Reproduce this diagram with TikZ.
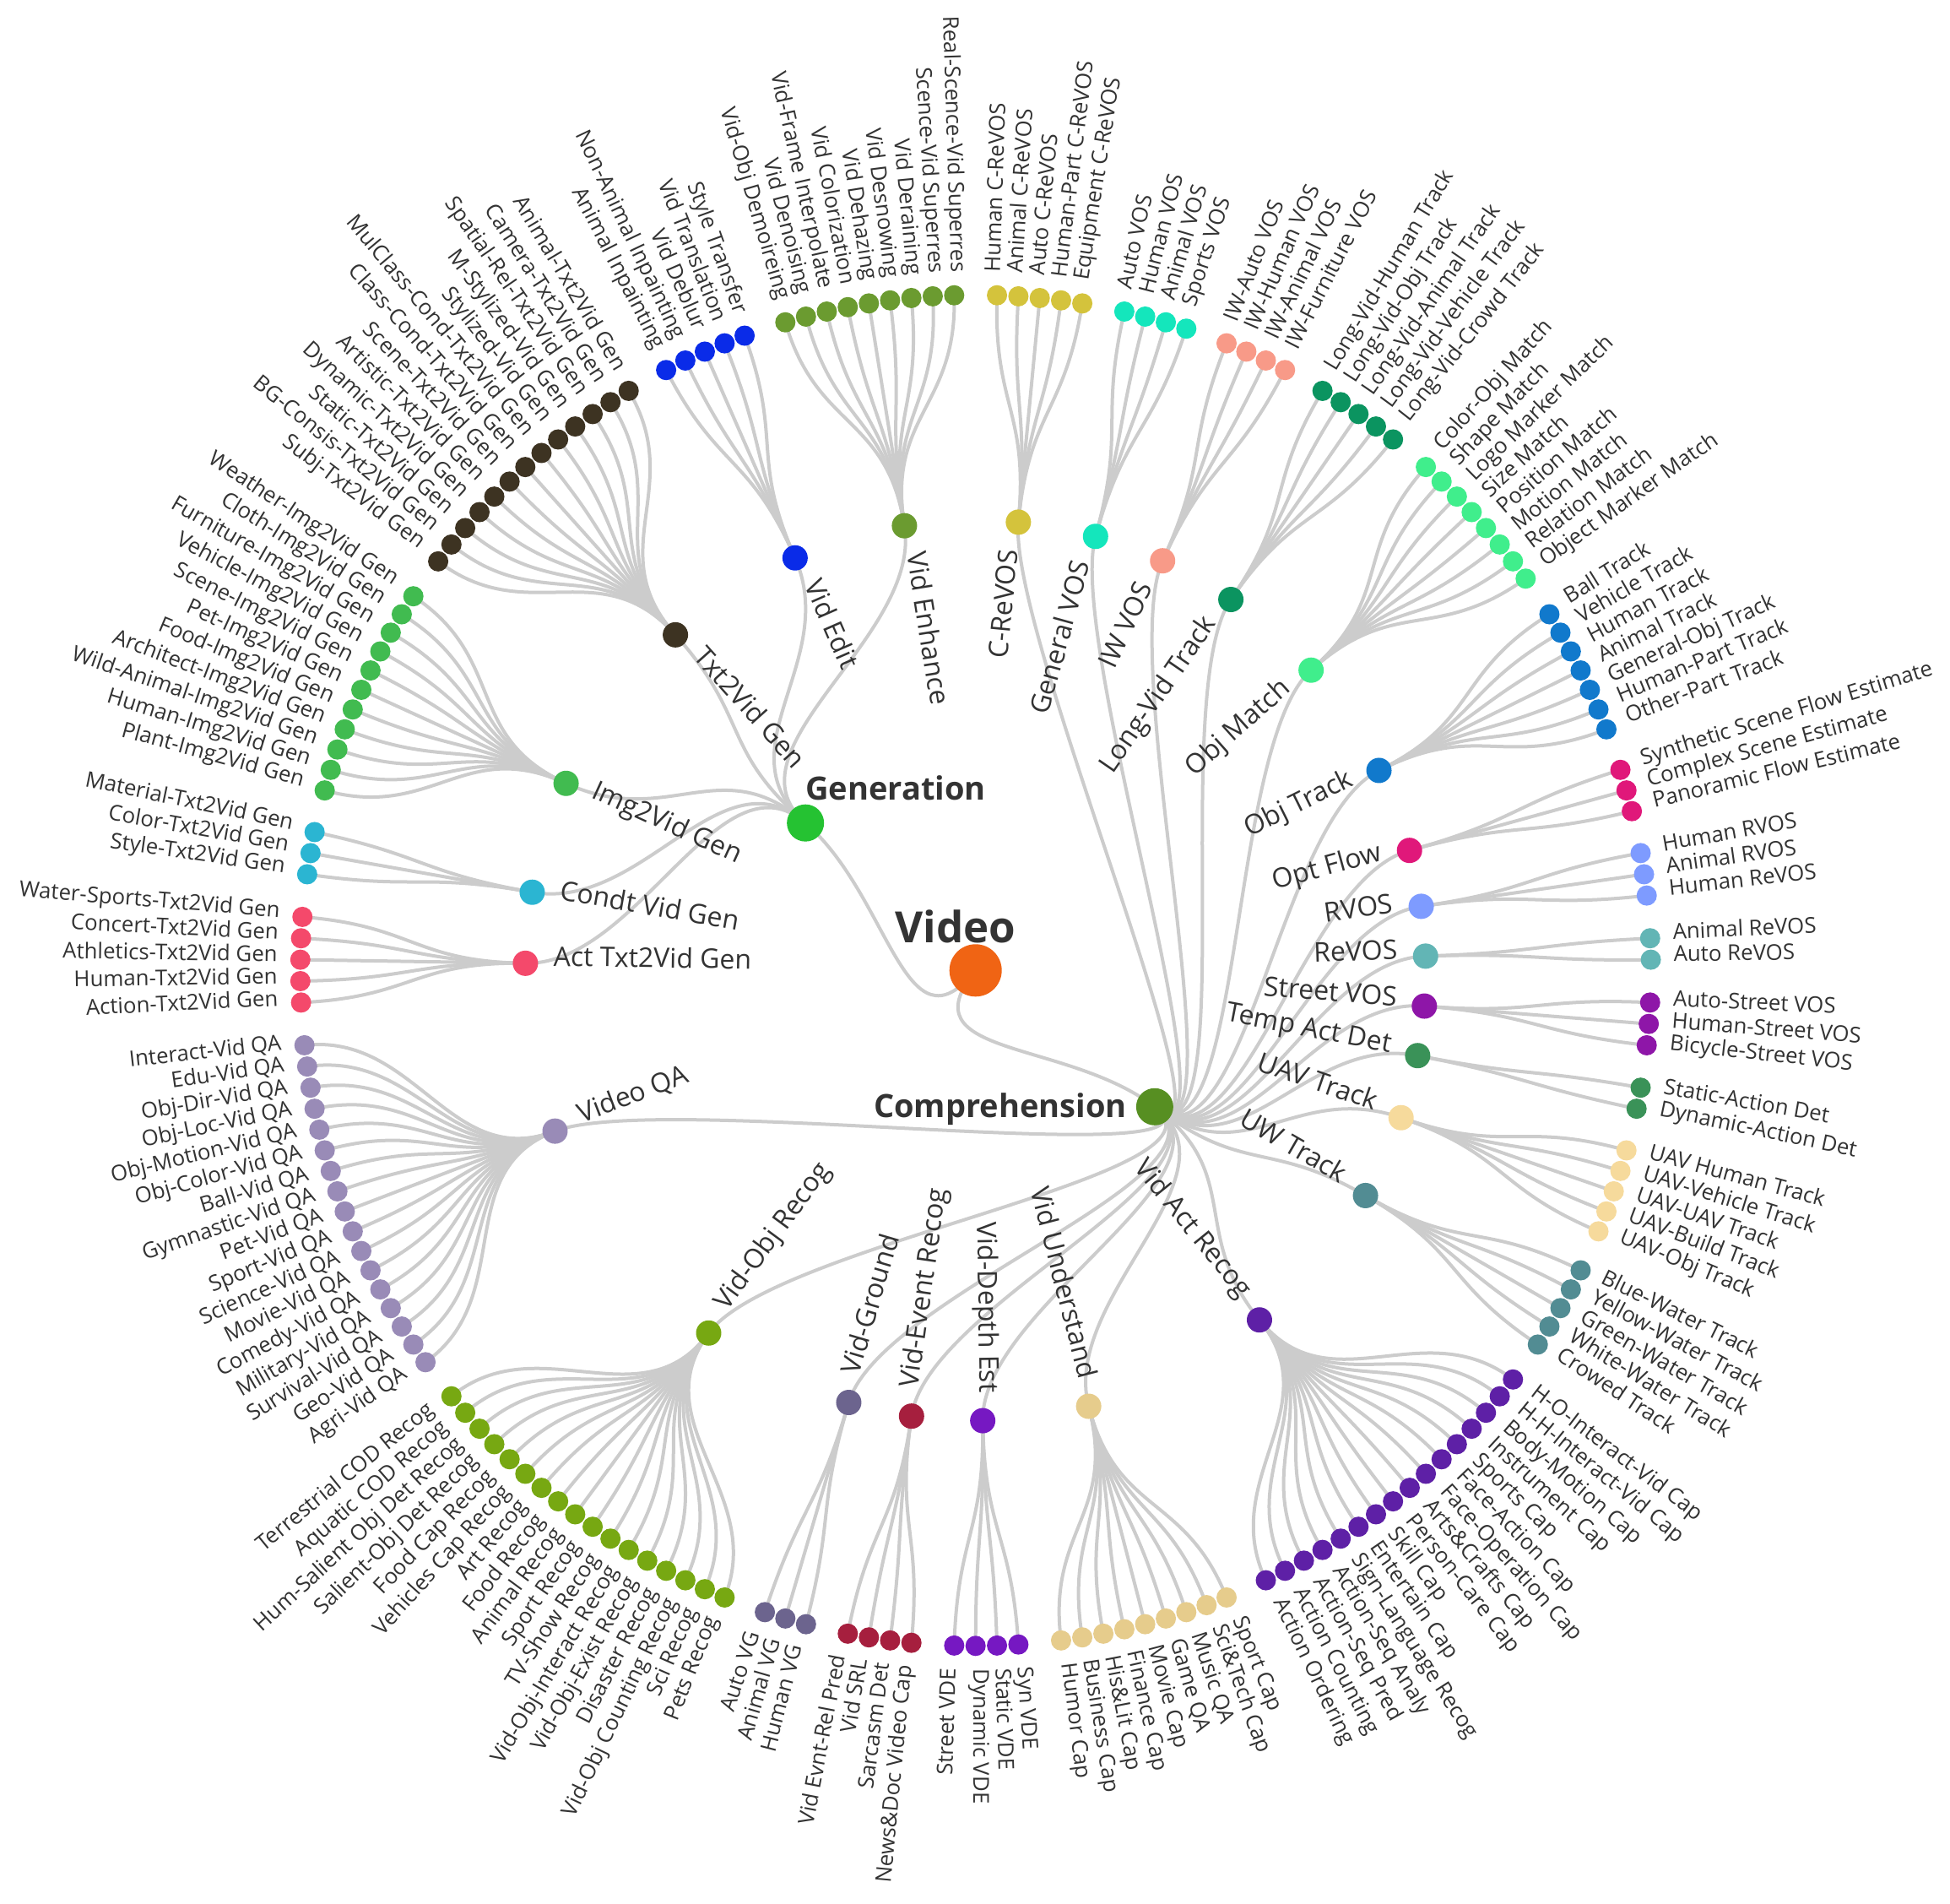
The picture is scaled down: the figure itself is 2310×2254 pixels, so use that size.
\documentclass[tikz,border=0pt]{standalone}
\usepackage{fontspec}
\setmainfont{Open Sans}
\pgfdeclarelayer{bg}
\pgfsetlayers{bg,main}
\definecolor{linkgray}{HTML}{CCCCCC}
\definecolor{txt}{HTML}{333333}
\definecolor{cVideo}{HTML}{F06414}
\definecolor{cGen}{HTML}{25C232}
\definecolor{cComp}{HTML}{578F22}
\definecolor{cCRe}{HTML}{D4C33C}
\definecolor{cGVOS}{HTML}{14E6BC}
\definecolor{cIW}{HTML}{F89A88}
\definecolor{cLong}{HTML}{0B9460}
\definecolor{cMatch}{HTML}{40EE8C}
\definecolor{cOTrack}{HTML}{1179CC}
\definecolor{cFlow}{HTML}{E0187A}
\definecolor{cRVOS}{HTML}{7E9BFF}
\definecolor{cReVOS}{HTML}{62B5B5}
\definecolor{cStreet}{HTML}{8E16A8}
\definecolor{cTemp}{HTML}{3A9258}
\definecolor{cUAV}{HTML}{F6DA9C}
\definecolor{cUW}{HTML}{528C93}
\definecolor{cActR}{HTML}{5E20A6}
\definecolor{cUnd}{HTML}{E6CC8C}
\definecolor{cDepth}{HTML}{7618C2}
\definecolor{cEvent}{HTML}{A61F3E}
\definecolor{cGround}{HTML}{6C648E}
\definecolor{cObjR}{HTML}{77A812}
\definecolor{cQA}{HTML}{998BB7}
\definecolor{cActT}{HTML}{F4496B}
\definecolor{cCondt}{HTML}{2BB5D2}
\definecolor{cImg}{HTML}{41BB50}
\definecolor{cTxt}{HTML}{3D3322}
\definecolor{cEdit}{HTML}{0A2BE8}
\definecolor{cEnh}{HTML}{6B9B30}
\tikzset{
  link/.style={draw=linkgray, line width=4pt},
  leafdot/.style={circle, fill=#1, draw=none, minimum size=24pt, inner sep=0pt},
  catdot/.style={circle, fill=#1, draw=none, minimum size=30pt, inner sep=0pt},
  topdot/.style={circle, fill=#1, draw=none, minimum size=44pt, inner sep=0pt},
  leaflabel/.style={font=\fontsize{25.8}{30}\selectfont, text=txt, inner sep=0pt},
  catlabel/.style={font=\fontsize{32}{38}\selectfont, text=txt, inner sep=0pt},
  toplabel/.style={font=\bfseries\fontsize{38}{44}\selectfont, text=txt, inner sep=0pt},
}
% #1 g, #2 kstart, #3 n, #4 color, #5 label, #6 parent, #7 parent angle, #8 leaves
\newcommand{\drawgroup}[8]{%
  \pgfmathsetmacro\cidx{1+#2+#1+(#3-1)/2}%
  \pgfmathsetmacro\cang{90-\cidx*1.81818182}%
  \node[catdot=#4] (c#1) at (\cang:533.333) {};
  \begin{pgfonlayer}{bg}
    \draw[link] (#6.center) .. controls (#7:400) and (\cang:400) .. (c#1.center);
  \end{pgfonlayer}
  \ifdim\cidx pt<99.5pt
    \node[catlabel, anchor=mid east, rotate=\cang] (cl#1) at (\cang:500.3) {#5};
  \else
    \node[catlabel, anchor=mid west, rotate=\cang+180] (cl#1) at (\cang:500.3) {#5};
  \fi
  \foreach \lab [count=\j from 0] in {#8} {
    \pgfmathtruncatemacro\kk{#2+\j}%
    \pgfmathsetmacro\lidx{1+\kk+#1}%
    \pgfmathsetmacro\lang{90-\lidx*1.81818182}%
    \node[leafdot=#4] (l\kk) at (\lang:800) {};
    \begin{pgfonlayer}{bg}
      \draw[link] (c#1.center) .. controls (\cang:666.667) and (\lang:666.667) .. (l\kk.center);
    \end{pgfonlayer}
    \ifdim\lidx pt<99.5pt
      \node[leaflabel, anchor=mid west, rotate=\lang] (t\kk) at (\lang:827) {\lab};
    \else
      \node[leaflabel, anchor=mid east, rotate=\lang+180] (t\kk) at (\lang:827) {\lab};
    \fi
  }%
}
\begin{document}
\begin{tikzpicture}[x=1pt,y=1pt]
\useasboundingbox (-1155.7,-1104.7) rectangle (1154.3,1149.3);
\def\rootang{-129.0909}
\def\genang{-220.9091}
\def\compang{-37.2727}
\node[topdot=cVideo, minimum size=62pt] (root) at (0,0) {};
\node[topdot=cGen] (gen) at (\genang:266.667) {};
\node[topdot=cComp] (comp) at (\compang:266.667) {};
\begin{pgfonlayer}{bg}
  \draw[link] (root.center) .. controls (\rootang:133.333) and (\genang:133.333) .. (gen.center);
  \draw[link] (root.center) .. controls (\rootang:133.333) and (\compang:133.333) .. (comp.center);
\end{pgfonlayer}
\node[toplabel, font=\bfseries\fontsize{51}{58}\selectfont, anchor=base] (rootlabel) at (-24,33) {Video};
\node[toplabel, anchor=base west] (genlabel) at ([yshift=27pt]gen.center) {Generation};
\node[toplabel, anchor=base east] (complabel) at ([xshift=-33pt,yshift=-13pt]comp.center) {Comprehension};

\drawgroup{0}{0}{5}{cCRe}{C-ReVOS}{comp}{\compang}{Human C-ReVOS,Animal C-ReVOS,Auto C-ReVOS,Human-Part C-ReVOS,Equipment C-ReVOS}
\drawgroup{1}{5}{4}{cGVOS}{General VOS}{comp}{\compang}{Auto VOS,Human VOS,Animal VOS,Sports VOS}
\drawgroup{2}{9}{4}{cIW}{IW VOS}{comp}{\compang}{IW-Auto VOS,IW-Human VOS,IW-Animal VOS,IW-Furniture VOS}
\drawgroup{3}{13}{5}{cLong}{Long-Vid Track}{comp}{\compang}{Long-Vid-Human Track,Long-Vid-Obj Track,Long-Vid-Animal Track,Long-Vid-Vehicle Track,Long-Vid-Crowd Track}
\drawgroup{4}{18}{8}{cMatch}{Obj Match}{comp}{\compang}{Color-Obj Match,Shape Match,Logo Marker Match,Size Match,Position Match,Motion Match,Relation Match,Object Marker Match}
\drawgroup{5}{26}{7}{cOTrack}{Obj Track}{comp}{\compang}{Ball Track,Vehicle Track,Human Track,Animal Track,General-Obj Track,Human-Part Track,Other-Part Track}
\drawgroup{6}{33}{3}{cFlow}{Opt Flow}{comp}{\compang}{Synthetic Scene Flow Estimate,Complex Scene Estimate,Panoramic Flow Estimate}
\drawgroup{7}{36}{3}{cRVOS}{RVOS}{comp}{\compang}{Human RVOS,Animal RVOS,Human ReVOS}
\drawgroup{8}{39}{2}{cReVOS}{ReVOS}{comp}{\compang}{Animal ReVOS,Auto ReVOS}
\drawgroup{9}{41}{3}{cStreet}{Street VOS}{comp}{\compang}{Auto-Street VOS,Human-Street VOS,Bicycle-Street VOS}
\drawgroup{10}{44}{2}{cTemp}{Temp Act Det}{comp}{\compang}{Static-Action Det,Dynamic-Action Det}
\drawgroup{11}{46}{5}{cUAV}{UAV Track}{comp}{\compang}{UAV Human Track,UAV-Vehicle Track,UAV-UAV Track,UAV-Build Track,UAV-Obj Track}
\drawgroup{12}{51}{5}{cUW}{UW Track}{comp}{\compang}{Blue-Water Track,Yellow-Water Track,Green-Water Track,White-Water Track,Crowed Track}
\drawgroup{13}{56}{16}{cActR}{Vid Act Recog}{comp}{\compang}{H-O-Interact-Vid Cap,H-H-Interact-Vid Cap,Body-Motion Cap,Instrument Cap,Sports Cap,Face-Action Cap,Face-Operation Cap,Arts\&Crafts Cap,Person-Care Cap,Skill Cap,Entertain Cap,Sign-Language Recog,Action-Seq Analy,Action-Seq Pred,Action Counting,Action Ordering}
\drawgroup{14}{72}{9}{cUnd}{Vid Understand}{comp}{\compang}{Sport Cap,Sci\&Tech Cap,Music QA,Game QA,Movie Cap,Finance Cap,His\&Lit Cap,Business Cap,Humor Cap}
\drawgroup{15}{81}{4}{cDepth}{Vid-Depth Est}{comp}{\compang}{Syn VDE,Static VDE,Dynamic VDE,Street VDE}
\drawgroup{16}{85}{4}{cEvent}{Vid-Event Recog}{comp}{\compang}{News\&Doc Video Cap,Sarcasm Det,Vid SRL,Vid Evnt-Rel Pred}
\drawgroup{17}{89}{3}{cGround}{Vid-Ground}{comp}{\compang}{Human VG,Animal VG,Auto VG}
\drawgroup{18}{92}{17}{cObjR}{Vid-Obj Recog}{comp}{\compang}{Pets Recog,Sci Recog,Vid-Obj Counting Recog,Disaster Recog,Vid-Obj-Exist Recog,Vid-Obj-Interact Recog,TV-Show Recog,Sport Recog,Animal Recog,Food Recog,Art Recog,Vehicles Cap Recog,Food Cap Recog,Salient-Obj Det Recog,Hum-Salient Obj Det Recog,Aquatic COD Recog,Terrestrial COD Recog}
\drawgroup{19}{109}{17}{cQA}{Video QA}{comp}{\compang}{Agri-Vid QA,Geo-Vid QA,Survival-Vid QA,Military-Vid QA,Comedy-Vid QA,Movie-Vid QA,Science-Vid QA,Sport-Vid QA,Pet-Vid QA,Gymnastic-Vid QA,Ball-Vid QA,Obj-Color-Vid QA,Obj-Motion-Vid QA,Obj-Loc-Vid QA,Obj-Dir-Vid QA,Edu-Vid QA,Interact-Vid QA}
\drawgroup{20}{126}{5}{cActT}{Act Txt2Vid Gen}{gen}{\genang}{Action-Txt2Vid Gen,Human-Txt2Vid Gen,Athletics-Txt2Vid Gen,Concert-Txt2Vid Gen,Water-Sports-Txt2Vid Gen}
\drawgroup{21}{131}{3}{cCondt}{Condt Vid Gen}{gen}{\genang}{Style-Txt2Vid Gen,Color-Txt2Vid Gen,Material-Txt2Vid Gen}
\drawgroup{22}{134}{11}{cImg}{Img2Vid Gen}{gen}{\genang}{Plant-Img2Vid Gen,Human-Img2Vid Gen,Wild-Animal-Img2Vid Gen,Architect-Img2Vid Gen,Food-Img2Vid Gen,Pet-Img2Vid Gen,Scene-Img2Vid Gen,Vehicle-Img2Vid Gen,Furniture-Img2Vid Gen,Cloth-Img2Vid Gen,Weather-Img2Vid Gen}
\drawgroup{23}{145}{13}{cTxt}{Txt2Vid Gen}{gen}{\genang}{Subj-Txt2Vid Gen,BG-Consis-Txt2Vid Gen,Static-Txt2Vid Gen,Dynamic-Txt2Vid Gen,Artistic-Txt2Vid Gen,Scene-Txt2Vid Gen,Class-Cond-Txt2Vid Gen,MulClass-Cond-Txt2Vid Gen,Stylized-Vid Gen,M-Stylized-Vid Gen,Spatial-Rel-Txt2Vid Gen,Camera-Txt2Vid Gen,Animal-Txt2Vid Gen}
\drawgroup{24}{158}{5}{cEdit}{Vid Edit}{gen}{\genang}{Animal Inpainting,Non-Animal Inpainting,Vid Deblur,Vid Translation,Style Transfer}
\drawgroup{25}{163}{9}{cEnh}{Vid Enhance}{gen}{\genang}{Vid-Obj Demoireing,Vid Denoising,Vid-Frame Interpolate,Vid Colorization,Vid Dehazing,Vid Desnowing,Vid Deraining,Scence-Vid Superres,Real-Scence-Vid Superres}
\end{tikzpicture}
\end{document}
